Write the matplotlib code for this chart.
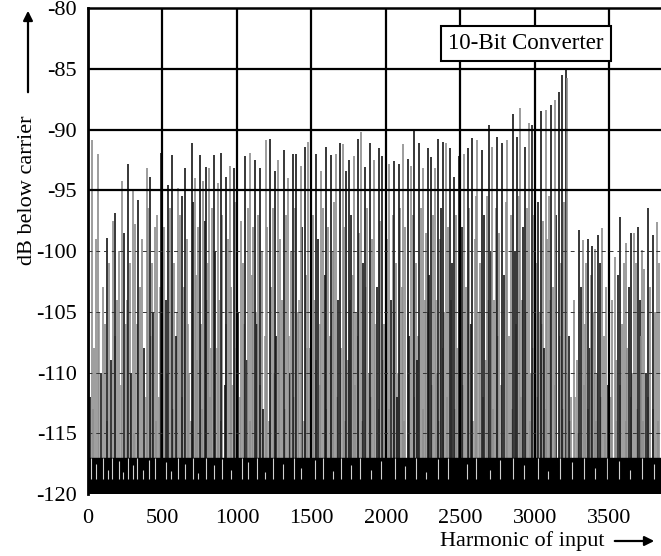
import matplotlib
matplotlib.use('Agg')
import matplotlib.pyplot as plt

plt.rcParams['font.family'] = ['Liberation Serif', 'DejaVu Serif']

# tallest spikes (harmonic, dB below carrier, shade k=black g=grey)
peak_h = [25, 67, 125, 181, 226, 270, 302, 337, 393, 415, 449, 489, 538, 565, 605, 632,
          650, 695, 717, 750, 773, 795, 813, 844, 871, 891, 929, 951, 978,
          1052, 1085, 1119, 1152, 1193, 1219, 1253, 1275, 1315, 1342, 1376, 1398, 1427, 1454, 1476,
          1532, 1566, 1599, 1633, 1666, 1695, 1710, 1733, 1755, 1789, 1811, 1834, 1861, 1896,
          1923, 1952, 1974, 2023, 2057, 2086, 2117, 2146, 2169, 2191, 2224, 2247, 2280, 2303,
          2332, 2347, 2381, 2403, 2432, 2459, 2490, 2526, 2549, 2581, 2615, 2648, 2693, 2715,
          2749, 2782, 2816, 2856, 2883, 2901, 2934, 2961, 2983, 3044, 3073, 3111, 3133, 3162,
          3185, 3207, 3219, 3298, 3320, 3354, 3387, 3405, 3427, 3449, 3498, 3571, 3609, 3643,
          3665, 3694, 3722, 3761, 3790, 3821]
peak_db = [-90.9, -92.0, -98.9, -96.9, -94.2, -92.8, -95.0, -95.8, -93.2, -93.9, -98.0, -91.9, -94.6, -92.1, -94.8, -95.5,
           -93.2, -91.1, -94.0, -92.1, -94.2, -93.1, -93.2, -92.1, -94.4, -91.9, -93.9, -93.0, -93.2,
           -92.2, -91.9, -92.5, -93.2, -90.9, -90.8, -93.4, -92.5, -91.7, -94.0, -92.0, -92.0, -93.0, -91.4, -91.0,
           -92.0, -93.4, -91.4, -92.1, -92.0, -91.1, -91.2, -93.4, -92.5, -92.2, -90.8, -90.2, -93.1, -91.1,
           -92.5, -91.5, -92.2, -92.8, -92.6, -92.8, -91.2, -92.4, -93.0, -90.0, -91.1, -93.2, -91.5, -92.3,
           -93.2, -90.8, -91.0, -91.1, -91.5, -93.9, -92.2, -92.0, -91.5, -90.7, -90.9, -91.7, -89.6, -91.4,
           -90.6, -91.1, -90.9, -88.7, -90.6, -88.2, -91.4, -89.5, -89.6, -88.5, -88.4, -88.0, -87.6, -86.9,
           -85.5, -85.1, -85.8, -98.3, -99.1, -99.0, -99.6, -99.8, -98.7, -98.1, -95.9, -97.2, -99.3, -98.5,
           -98.5, -98.0, -99.9, -96.5, -98.7, -97.6]
peak_shade = ("ggkkgkgkgkgkkkgk"
              "kkgkgkgkgkkgk"
              "kgkkgkkgkgkkgkg"
              "kgkkgkgkkgkgkk"
              "gkkgkkgkgkkgkk"
              "gkkgkkkgkkgkkg"
              "kkgkkgkgkkgkgk"
              "kkgkgkkgkgkkgk"
              "gkgkkg")

# lower spikes filling the gaps
low_h = [8, 15, 40, 52, 88, 100, 112, 140, 152, 168, 195, 208, 240, 255, 285, 292, 318, 350, 365, 378,
         405, 428, 437, 462, 475,
         512, 525, 550, 578, 590, 618, 642, 662, 680, 705, 728, 740, 760, 784, 805, 825, 835, 856, 880,
         902, 918, 940, 962, 990,
         1010, 1025, 1040, 1065, 1075, 1098, 1108, 1132, 1142, 1165, 1178, 1205, 1232, 1242, 1265, 1288,
         1300, 1328, 1355, 1365, 1388, 1410, 1440, 1465, 1488,
         1510, 1520, 1545, 1555, 1578, 1588, 1612, 1622, 1645, 1655, 1680, 1720, 1745, 1768, 1778, 1800,
         1822, 1848, 1872, 1885, 1910, 1938, 1962, 1988,
         2010, 2035, 2046, 2068, 2075, 2098, 2108, 2130, 2158, 2180, 2200, 2212, 2236, 2260, 2270, 2292,
         2318, 2340, 2360, 2370, 2392, 2418, 2445, 2470, 2480,
         2510, 2538, 2560, 2572, 2595, 2605, 2630, 2660, 2672, 2682, 2705, 2728, 2738, 2760, 2795, 2805,
         2828, 2842, 2868, 2895, 2912, 2922, 2948, 2972, 2995,
         3010, 3022, 3035, 3055, 3062, 3085, 3098, 3120, 3145, 3175, 3196, 3228, 3245, 3262, 3280, 3310,
         3338, 3345, 3368, 3378, 3395, 3418, 3438, 3462, 3475, 3488, 3520, 3535, 3548, 3560, 3585, 3598,
         3622, 3632, 3655, 3678, 3705, 3712, 3735, 3748, 3772, 3805, 3832]
low_db = [-104, -112, -108, -99, -110, -103, -106, -101, -109, -97.5, -104, -100, -98.5, -106, -101, -110, -97.8, -103, -99, -108,
          -96.5, -101, -105, -97, -112,
          -98, -104, -96.5, -101, -107, -97, -103, -99, -110, -96, -102, -98, -106, -97.5, -101, -108, -96.5, -100, -104,
          -97, -111, -99, -103, -96,
          -105, -97.5, -101, -109, -96.5, -102, -98, -106, -97, -100, -113, -98, -103, -96.5, -107, -99,
          -104, -97, -110, -100, -96.5, -105, -98, -102, -108,
          -97, -104, -99, -111, -96.5, -102, -98, -107, -100, -96, -104, -98, -109, -97, -102, -105,
          -98.5, -101, -96.5, -110, -99, -103, -97.5, -106,
          -99, -104, -97, -101, -112, -96.5, -103, -98, -107, -97, -101, -109, -96.5, -104, -98.5, -102,
          -97, -110, -99, -96.5, -105, -98, -101, -97, -108,
          -98, -103, -96.5, -106, -99, -95.5, -101, -97, -109, -95.5, -100, -104, -96.5, -98.5, -102, -96,
          -107, -97, -100, -95.5, -104, -98, -96.5, -110, -97,
          -101, -96, -105, -97.5, -108, -99, -95.5, -103, -97, -101, -96, -107, -112, -104, -109, -103,
          -106, -101, -108, -102, -105, -110, -101, -107, -103, -111, -104, -100.5, -109, -102, -106, -101,
          -108, -103, -110, -101, -104, -107, -101.5, -110, -103, -105, -101]
low_shade = ("gkggkgggkgggkggkgggkggkgg"
             "gkggkggggkgggkgggkggkggg"
             "kggkgggkggkgggkgggkgggkgg"
             "ggkggkggggkggkgggkgggkgg"
             "gkggkgggkggkgggkgggkggkgg"
             "kggkgggkggkgggkgggkggkggg"
             "gkggkgggkggkgggkggkgggkggkgggkgggkggkggkgggkgg")

# short lines at the bottom between the others
short_h = [32, 75, 130, 180, 220, 262, 310, 330, 388, 420, 455, 482,
           530, 570, 598, 628, 670, 690, 735, 765, 800, 818, 865, 895, 925, 970, 995,
           1018, 1048, 1090, 1125, 1158, 1190, 1212, 1248, 1280, 1320, 1348, 1382, 1418, 1448, 1470, 1495,
           1528, 1560, 1595, 1638, 1670, 1700, 1728, 1760, 1795, 1815, 1840, 1865, 1902, 1930, 1955, 1980,
           2018, 2052, 2082, 2120, 2150, 2188, 2218, 2252, 2285, 2310, 2335, 2355, 2385, 2410, 2438, 2462, 2495,
           2520, 2555, 2585, 2622, 2655, 2688, 2722, 2755, 2775, 2812, 2850, 2875, 2905, 2940, 2965, 2990,
           3015, 3048, 3078, 3105, 3138, 3168, 3190, 3215, 3238, 3270, 3290, 3328, 3360, 3412, 3445, 3470,
           3510, 3542, 3575, 3615, 3648, 3688, 3725, 3760, 3795, 3825]
short_db = [-113, -105, -114, -107, -111, -104, -115, -106, -112, -107, -114, -103,
            -110, -113, -105, -112, -106, -114, -109, -113, -104, -112, -108, -114, -106, -111, -108,
            -112, -106, -114, -105, -111, -107, -114, -110, -105, -113, -107, -112, -104, -114, -108, -113,
            -109, -106, -113, -105, -112, -108, -114, -104, -111, -107, -114, -103, -112, -106, -113, -109,
            -113, -105, -110, -114, -104, -112, -107, -113, -105, -111, -104, -114, -108, -112, -104, -113, -107,
            -111, -106, -114, -105, -112, -104, -113, -107, -111, -104, -113, -106, -112, -105, -114, -108,
            -112, -106, -113, -104, -111, -107, -113, -110, -114, -112, -115, -111, -113, -114, -112, -115,
            -112, -114, -111, -114, -112, -113, -114, -112, -113, -114]

# light streaks inside the noise-floor band
gap_h = [20, 55, 98, 133, 158, 205, 232, 266, 300, 327, 372, 410, 447, 521, 557, 603, 652, 703, 741,
         792, 848, 903, 957, 1032, 1071, 1133, 1188, 1243, 1307, 1382, 1428, 1522, 1578, 1642, 1697,
         1763, 1827, 1903, 1968, 2062, 2127, 2203, 2268, 2352, 2417, 2543, 2608, 2702, 2767, 2853,
         2927, 3023, 3087, 3172, 3248, 3333, 3407, 3483, 3562, 3637, 3722, 3803]
gap_top = [-117.0, -117.5, -117.0, -118.0, -117.0, -117.3, -118.2, -117.0, -117.6, -117.0, -118.0, -117.2,
           -117.0, -117.4, -118.1, -117.0, -117.5, -117.0, -118.3, -117.0, -117.6, -117.1, -118.0, -117.0,
           -117.4, -117.0, -118.2, -117.0, -117.5, -117.0, -117.9, -117.2, -117.0, -118.1, -117.0, -117.6,
           -117.0, -118.0, -117.3, -117.0, -117.7, -117.0, -118.2, -117.1, -117.0, -117.5, -117.0, -118.0,
           -117.2, -117.0, -117.6, -117.0, -118.1, -117.0, -117.4, -117.0, -117.9, -117.0, -117.3, -118.0,
           -117.0, -117.5]

x_ticks = [0, 500, 1000, 1500, 2000, 2500, 3000, 3500]
y_ticks = [-120, -115, -110, -105, -100, -95, -90, -85, -80]

fig = plt.figure(figsize=(6.61, 5.56), dpi=100)
ax = fig.add_axes([0.1331, 0.1115, 0.8669, 0.8741])
shade_col = {'k': '#151515', 'g': '#8c8c8c'}

ax.vlines(short_h, -120, short_db, colors='#9a9a9a', linewidth=1.2, zorder=1)
for h, db, s in zip(low_h, low_db, low_shade):
    ax.vlines(h, -120, db, colors=shade_col[s], linewidth=1.2, zorder=2)
for h, db, s in zip(peak_h, peak_db, peak_shade):
    ax.vlines(h, -120, db, colors=shade_col[s], linewidth=1.2, zorder=3)

# noise floor band
ax.axhspan(-120, -117, color='black', zorder=4)
for h, top in zip(gap_h, gap_top):
    ax.vlines(h, -118.8, top, colors='#d0d0d0', linewidth=0.8, zorder=5)

# grid
for xv in x_ticks[1:]:
    ax.axvline(xv, color='black', linewidth=1.6, zorder=6)
for yv in [-85, -90, -95]:
    ax.axhline(yv, color='black', linewidth=1.6, zorder=6)
for yv in [-100, -105, -110, -115]:
    ax.axhline(yv, color='#333333', linewidth=0.7, linestyle=(0, (4, 4)), zorder=6)

ax.set_xlim(0, 3847)
ax.set_ylim(-120, -80)
ax.set_xticks(x_ticks)
ax.set_yticks(y_ticks)
ax.set_xticklabels([str(v) for v in x_ticks], fontsize=16)
ax.set_yticklabels([str(v) for v in y_ticks], fontsize=16)
ax.tick_params(length=0, pad=8)
ax.tick_params(axis='x', pad=11)
ax.spines['right'].set_visible(False)
ax.spines['bottom'].set_visible(False)
ax.spines['top'].set_linewidth(1.8)
ax.spines['left'].set_linewidth(2.0)
for sp in ax.spines.values():
    sp.set_zorder(7)

ax.text(2941, -82.92, '10-Bit Converter', fontsize=16.5, ha='center', va='center', zorder=8,
        bbox=dict(boxstyle='square,pad=0.3', facecolor='white', edgecolor='black', linewidth=1.5))

# axis titles with arrows
fig.text(28 / 661, 1 - 190 / 556, 'dB below carrier', rotation=90, fontsize=16, ha='center', va='center')
fig.patches.append(matplotlib.patches.FancyArrowPatch((28 / 661, 1 - 95 / 556), (28 / 661, 1 - 8 / 556),
                                                      transform=fig.transFigure, arrowstyle='-|>',
                                                      mutation_scale=14, linewidth=1.6, color='black'))
fig.text(522 / 661, 1 - 541 / 556, 'Harmonic of input', fontsize=16, ha='center', va='center')
fig.patches.append(matplotlib.patches.FancyArrowPatch((612 / 661, 1 - 541 / 556), (657 / 661, 1 - 541 / 556),
                                                      transform=fig.transFigure, arrowstyle='-|>',
                                                      mutation_scale=14, linewidth=1.6, color='black'))

fig.savefig('out.png', dpi=100)
